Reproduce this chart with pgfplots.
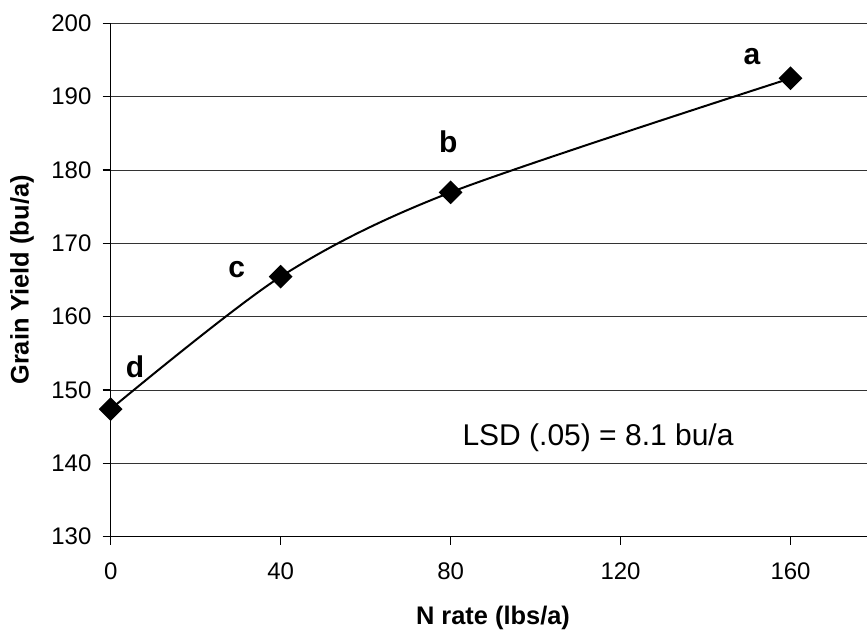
\documentclass[border=0pt]{standalone}
\usepackage{pgfplots}
\pgfplotsset{compat=1.18}
\usepackage{fontspec}
\setmainfont{Liberation Sans}
\begin{document}
\begin{tikzpicture}
\begin{axis}[
  scale only axis,
  width=378.15pt, height=256.7pt,
  xmin=0, xmax=178, ymin=130, ymax=200,
  axis lines*=left,
  xtick={0,40,80,120,160},
  ytick={130,140,...,200},
  tick align=outside,
  major tick length=4pt,
  ymajorgrids,
  grid style={black!80, line width=0.5pt},
  axis line style={line width=0.65pt},
  tick style={black, line width=0.6pt},
  /pgf/number format/assume math mode=true,
  ticklabel style={font=\fontsize{12}{14}\selectfont},
  xticklabel style={yshift=-5.6pt},
  yticklabel style={xshift=-2.1pt},
  xlabel={N rate (lbs/a)},
  ylabel={Grain Yield (bu/a)},
  label style={font=\fontsize{12.7}{14}\selectfont\bfseries},
  xlabel style={at={([yshift=-40.65pt]axis description cs:0.5055,0)}, anchor=center},
  ylabel style={at={([xshift=-44.35pt]axis description cs:0,0.5)}, anchor=center},
  clip=false,
]
\addplot[black, line width=1pt, smooth, tension=0.5, mark=square*, mark size=3.7pt, mark options={rotate=45, solid, fill=black}]
  coordinates {(0,147.4) (40,165.45) (80,176.95) (160,192.5)};
\node[font=\fontsize{15}{18}\selectfont\bfseries] at (axis cs:150.9,195.45) {a};
\node[font=\fontsize{15}{18}\selectfont\bfseries] at (axis cs:79.45,183.86) {b};
\node[font=\fontsize{15}{18}\selectfont\bfseries] at (axis cs:29.65,166.37) {c};
\node[font=\fontsize{15}{18}\selectfont\bfseries] at (axis cs:5.72,153.18) {d};
\node[font=\fontsize{15}{18}\selectfont] at (axis cs:114.7,143.46) {LSD (.05) = 8.1 bu/a};
\coordinate (O) at (rel axis cs:0,0);
\end{axis}
\pgfresetboundingbox
\path[use as bounding box] ([shift={(-55.35pt,-48.15pt)}]O) rectangle ++(433.5pt,316.5pt);
\end{tikzpicture}
\end{document}
